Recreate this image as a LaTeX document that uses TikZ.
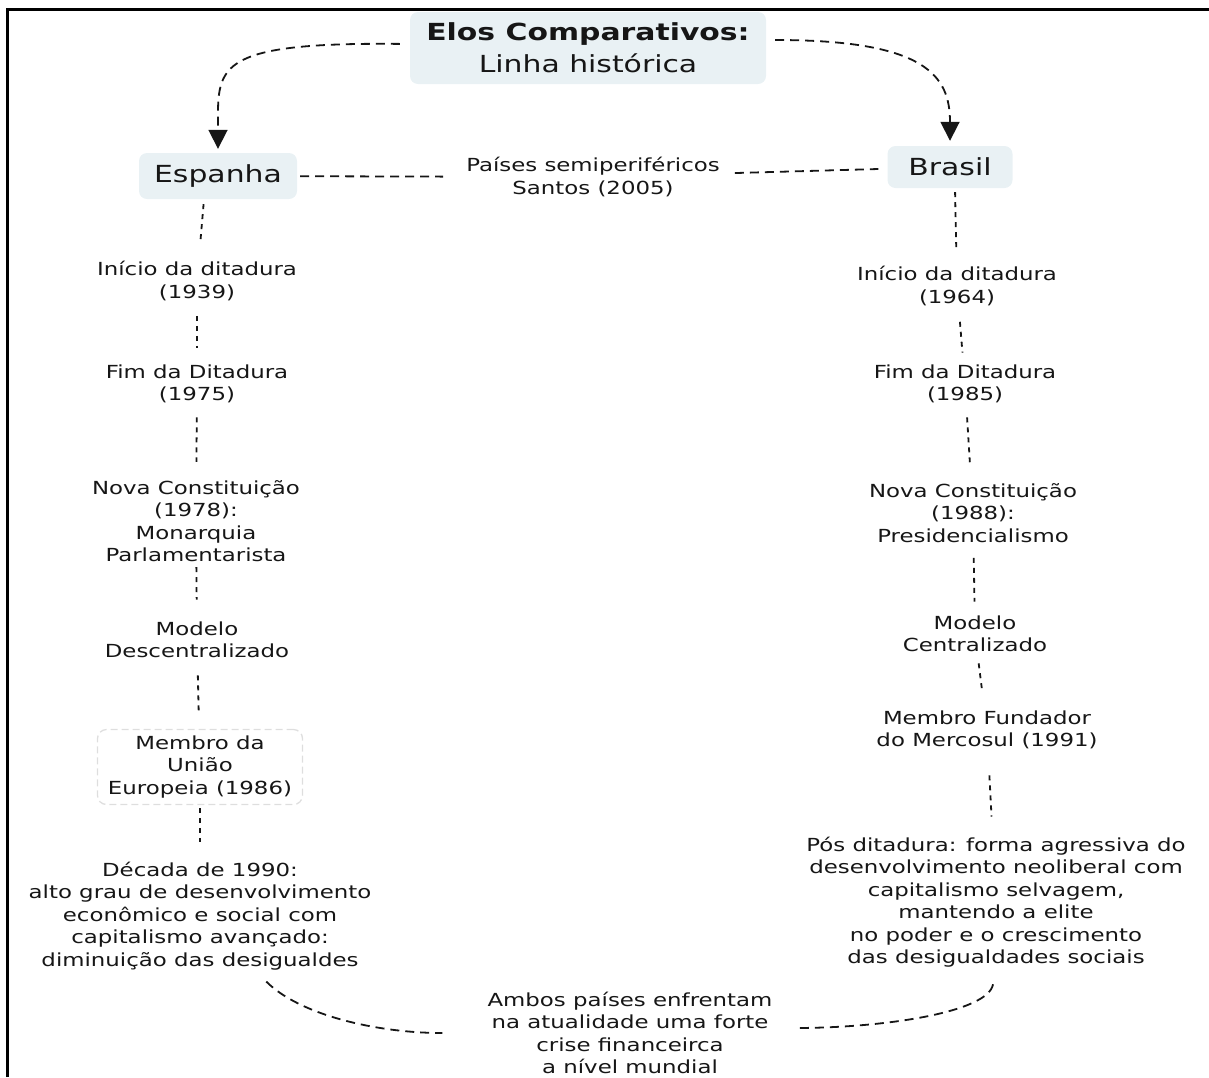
\documentclass[tikz,border=0pt]{standalone}
\usepackage{fontspec}
\setmainfont[FakeStretch=1.27]{DejaVu Sans}
\usetikzlibrary{arrows.meta}
\definecolor{ink}{RGB}{22,22,22}
\definecolor{boxfill}{RGB}{233,241,244}
\definecolor{faint}{RGB}{222,222,222}

\begin{document}
\begin{tikzpicture}[x=1pt,y=-1pt,
  txt/.style={align=center, inner sep=0pt, text=ink,
              font=\fontsize{18}{22.5}\selectfont},
  keybox/.style={fill=boxfill, rounded corners=8pt, inner sep=0pt, text=ink,
              align=center, font=\fontsize{23.5}{32}\selectfont},
  softbox/.style={txt, draw=faint, line width=1.3pt, dash pattern=on 7pt off 4pt,
              rounded corners=9pt},
  vlink/.style={draw=ink, line width=1.8pt, dash pattern=on 5pt off 5pt},
  hlink/.style={draw=ink, line width=1.8pt, dash pattern=on 9pt off 6pt},
  tip/.style={-{Triangle[width=19pt,length=19pt]}}
]
\useasboundingbox (0,0) rectangle (1209,1077);

% outer frame (left and top edges)
\draw[line width=2.5pt, black] (7.5,1077) -- (7.5,9.5) -- (1209,9.5);

% header and the two countries
\node[keybox, minimum width=356pt, minimum height=72pt] (title) at (588,48)
  {\textbf{Elos Comparativos:}\\Linha histórica};
\node[keybox, minimum width=158pt, minimum height=46pt] (esp) at (218,176) {Espanha};
\node[keybox, minimum width=125pt, minimum height=42pt] (bra) at (950,167) {Brasil};
\node[txt] (paises) at (593,177) {Países semiperiféricos\\Santos (2005)};

% Spain timeline
\node[txt] (ini1) at (197,281) {Início da ditadura\\(1939)};
\node[txt] (fim1) at (197,384) {Fim da Ditadura\\(1975)};
\node[txt] (nova1) at (196,521) {Nova Constituição\\(1978):\\Monarquia\\Parlamentarista};
\node[txt] (mod1) at (197,640) {Modelo\\Descentralizado};
\node[softbox, minimum width=205pt, minimum height=75pt] (ue1) at (200,767)
  {Membro da\\União\\Europeia (1986)};
\node[txt] (dec1) at (200,916) {Década de 1990:\\alto grau de desenvolvimento\\econômico e social com\\capitalismo avançado:\\diminuição das desigualdes};

% Brazil timeline
\node[txt] (ini2) at (957,286) {Início da ditadura\\(1964)};
\node[txt] (fim2) at (965,384) {Fim da Ditadura\\(1985)};
\node[txt] (nova2) at (973,513) {Nova Constituição\\(1988):\\Presidencialismo};
\node[txt] (mod2) at (975,634) {Modelo\\Centralizado};
\node[txt] (mer2) at (987,730) {Membro Fundador\\do Mercosul (1991)};
\node[txt] (pos2) at (996,902) {Pós ditadura: forma agressiva do\\desenvolvimento neoliberal com\\capitalismo selvagem,\\mantendo a elite\\no poder e o crescimento\\das desigualdades sociais};

% common ending
\node[txt] (ambos) at (630,1033) {Ambos países enfrentam\\na atualidade uma forte\\crise financeirca\\a nível mundial};

% header arrows
\draw[hlink, tip, shorten <=10pt, shorten >=4pt]
  ([yshift=4pt]title.west) .. controls +(-200,-2) and +(0,-85) .. (esp.north);
\draw[hlink, tip, shorten <=9pt, shorten >=5pt]
  ([yshift=8pt]title.east) .. controls +(160,0) and +(0,-70) .. (bra.north);

% horizontal links
\draw[hlink, shorten <=3pt, shorten >=23pt] (esp) -- (paises);
\draw[hlink, shorten <=15pt, shorten >=9pt] (paises) -- (bra);

% Spain chain
\draw[vlink, shorten <=5pt, shorten >=20pt] ([xshift=-14pt]esp.south) -- (ini1);
\draw[vlink, shorten <=15pt, shorten >=17pt] (ini1) -- (fim1);
\draw[vlink, shorten <=14pt, shorten >=18pt] (fim1) -- (nova1);
\draw[vlink, shorten <=5pt, shorten >=22pt] (nova1) -- (mod1);
\draw[vlink, shorten <=17pt, shorten >=15pt] (mod1) -- (ue1);
\draw[vlink, shorten <=3pt, shorten >=20pt] (ue1) -- (dec1);

% Brazil chain
\draw[vlink, shorten <=4pt, shorten >=15pt] ([xshift=5pt]bra.south) -- (ini2);
\draw[vlink, shorten <=16pt, shorten >=12pt] (ini2) -- (fim2);
\draw[vlink, shorten <=14pt, shorten >=21pt] (fim2) -- (nova2);
\draw[vlink, shorten <=15pt, shorten >=14pt] (nova2) -- (mod2);
\draw[vlink, shorten <=11pt, shorten >=20pt] (mod2) -- (mer2);
\draw[vlink, shorten <=26pt, shorten >=20pt] (mer2) -- (pos2);

% converging curves at the bottom
\draw[hlink, shorten <=16pt, shorten >=45pt]
  ([xshift=55pt]dec1.south) .. controls +(45,45) and +(-110,0) .. (ambos.west);
\draw[hlink, shorten <=17pt, shorten >=22pt]
  (pos2.south) .. controls +(-8,45) and +(110,0) .. ([yshift=5pt]ambos.east);
\end{tikzpicture}
\end{document}
